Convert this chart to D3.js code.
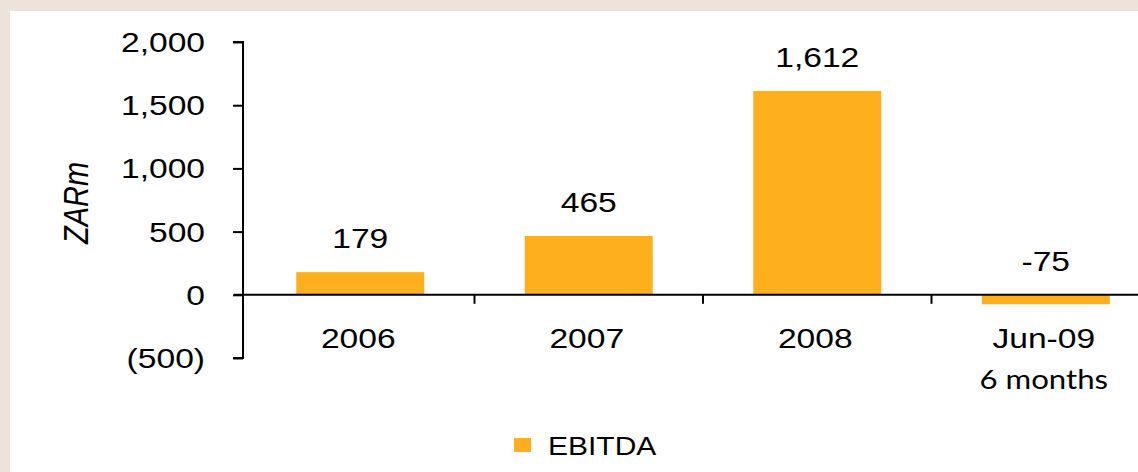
<!DOCTYPE html>
<html>
<head>
<meta charset="utf-8">
<script src="https://cdn.jsdelivr.net/npm/d3@7"></script>
<style>
  html, body { margin: 0; padding: 0; background: #EDE3DA; }
  svg { display: block; }
</style>
</head>
<body>
<svg id="chart" width="1138" height="472"></svg>
<script>
// EBITDA by period, ZAR millions
const categories = ["2006", "2007", "2008", "Jun-09"];
const subLabels = ["", "", "", "6 months"];
const ebitda = [179, 465, 1612, -75];
const yTicks = [-500, 0, 500, 1000, 1500, 2000];
const seriesName = "EBITDA";
const yTitle = "ZARm";

const W = 1138, H = 472;
const barColor = "#FDAF1E";
const font = "'Liberation Sans', Arial, sans-serif";
const sx = 1.2; // horizontal text stretch

const svg = d3.select("#chart");

// white panel
svg.append("rect").attr("x", 10).attr("y", 11).attr("width", W - 10).attr("height", H - 11).attr("fill", "#fff");

const x = d3.scaleBand().domain(categories).range([246, 1160]).paddingInner(0.44).paddingOuter(0.22);
const y = d3.scaleLinear().domain([-500, 2000]).range([358, 42]);
const axisX = 243;

const fmt = v => v < 0 ? "(" + d3.format(",")(-v) + ")" : d3.format(",")(v);

function label(g, tx, ty, txt, size, anchor, opts = {}) {
  return g.append("text")
    .attr("transform", `translate(${tx},${ty}) scale(${sx},1)`)
    .attr("text-anchor", anchor)
    .attr("font-family", opts.family || font)
    .attr("font-size", size)
    .attr("font-style", opts.style || "normal")
    .attr("fill", "#000")
    .text(txt);
}

// bars
svg.append("g").selectAll("rect").data(ebitda).join("rect")
  .attr("x", (d, i) => x(categories[i]))
  .attr("width", x.bandwidth())
  .attr("y", d => y(Math.max(0, d)))
  .attr("height", d => Math.abs(y(d) - y(0)))
  .attr("fill", barColor);

// value labels
const vl = svg.append("g");
ebitda.forEach((d, i) => {
  label(vl, x(categories[i]) + x.bandwidth() / 2, y(Math.max(0, d)) - 24,
    d < 0 ? "-" + Math.abs(d) : d3.format(",")(d), 28, "middle");
});

// y axis
const yAxis = svg.append("g").attr("transform", `translate(${axisX},0)`)
  .call(d3.axisLeft(y).tickValues(yTicks).tickSize(10).tickFormat(""));
yAxis.select(".domain").attr("stroke", "#000").attr("stroke-width", 2).attr("d", `M-10,${y(-500)}H0V${y(2000)}H-10`);
yAxis.selectAll(".tick line").attr("stroke", "#000").attr("stroke-width", 2);
const yl = svg.append("g");
yTicks.forEach(t => label(yl, 205, y(t) + 10, fmt(t), 28, "end"));

// x axis line at zero with category boundary ticks
const x0 = y(0);
const step = x.step();
const start = x.range()[0];
const bounds = d3.range(1, categories.length).map(i => start + i * step);
svg.append("line").attr("x1", axisX - 9).attr("x2", W).attr("y1", x0).attr("y2", x0)
  .attr("stroke", "#000").attr("stroke-width", 2);
svg.append("g").selectAll("line").data(bounds).join("line")
  .attr("x1", d => d).attr("x2", d => d).attr("y1", x0).attr("y2", x0 + 9)
  .attr("stroke", "#000").attr("stroke-width", 2);

// category labels
const cl = svg.append("g");
categories.forEach((c, i) => {
  const cx = x(c) + x.bandwidth() / 2;
  label(cl, cx - 2, 348, c, 28, "middle");
  if (subLabels[i]) label(cl, cx - 2, 389, subLabels[i], 26, "middle", { family: "Lato, 'Open Sans', sans-serif" });
});

// y title
svg.append("text")
  .attr("transform", `translate(88,203) rotate(-90) scale(1,${sx})`)
  .attr("text-anchor", "middle")
  .attr("font-family", font).attr("font-style", "italic").attr("font-size", 29)
  .text(yTitle);

// legend
svg.append("rect").attr("x", 514).attr("y", 438).attr("width", 17).attr("height", 14).attr("fill", barColor);
label(svg, 548, 455, seriesName, 25, "start");
</script>
</body>
</html>
